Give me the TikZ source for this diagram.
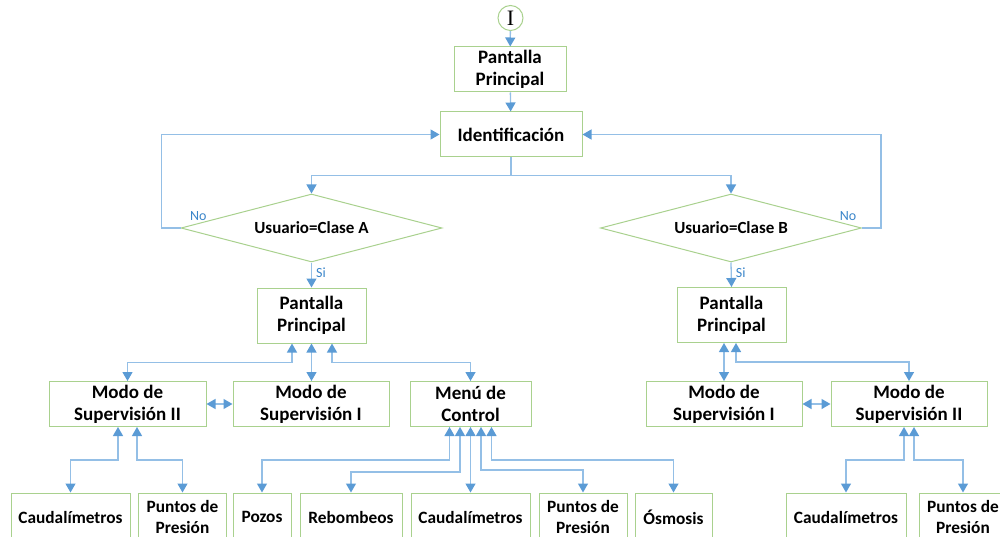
\documentclass[tikz,border=0pt]{standalone}
\usepackage{fontspec}
\setmainfont{Carlito}
\newfontfamily\letterfont{Liberation Serif}
\usetikzlibrary{arrows.meta,shapes.geometric,positioning}
\definecolor{boxgreen}{HTML}{A9D18E}
\definecolor{lineblue}{HTML}{94BFE6}
\definecolor{tipblue}{HTML}{5B9BD5}
\definecolor{lblblue}{HTML}{3A85C9}
\tikzset{
  box/.style={draw=boxgreen, line width=1pt, fill=white, inner sep=0pt, align=center,
    minimum height=45pt, font=\fontsize{19}{22}\selectfont\bfseries},
  leaf/.style={box, minimum height=48pt, font=\fontsize{17.3}{21}\selectfont\bfseries},
  decision/.style={diamond, aspect=3.84, draw=boxgreen, line width=1pt, fill=white, inner sep=0pt,
    minimum width=261pt, minimum height=68pt, font=\fontsize{17}{20}\selectfont\bfseries},
  startnode/.style={circle, draw=boxgreen, line width=1pt, minimum size=25pt, inner sep=0pt,
    font=\fontsize{22}{22}\selectfont\letterfont},
  link/.style={draw=lineblue, line width=1.3pt},
  lbl/.style={text=lblblue, inner sep=0pt, font=\fontsize{14}{14}\selectfont},
  >={Triangle[width=10pt,length=9pt,color=tipblue]}
}
\begin{document}
\begin{tikzpicture}[x=1pt,y=-1pt]
\useasboundingbox (0,0) rectangle (1000,537);
\clip (0,0) rectangle (1000,537);
% inicio y acceso
\node[startnode] (st) at (510.5,18) {I};
\node[box, minimum width=112pt] (pp0) at (510,69.5) {Pantalla\\Principal};
\node[box, minimum width=142pt] (id) at (511,134.5) {Identificaci\'on};
\node[decision] (decA) at (311.5,228) {Usuario=Clase A};
\node[decision] (decB) at (731,228) {Usuario=Clase B};
\draw[link,->] (st) -- (pp0);
\draw[link,->] (pp0) -- (id);
\draw[link,->] (id.south) -- ++(0,18) -| (decA.north);
\draw[link,->] (id.south) -- ++(0,18) -| (decB.north);
\draw[link,->] (decA.west) node[lbl, above right=7pt and 9pt] {No} -- ++(-19,0) |- (id.west);
\draw[link,->] (decB.east) node[lbl, above left=7pt and 5pt] {No} -- ++(19,0) |- (id.east);
% pantallas principales
\node[box, minimum width=109pt, minimum height=55pt] (ppA) at (311.5,315.5) {Pantalla\\Principal};
\node[box, minimum width=109pt, minimum height=55pt] (ppB) at (731.5,315) {Pantalla\\Principal};
\draw[link,->] (decA.south) -- node[lbl, right=4pt, pos=0.4] {Si} (ppA.north);
\draw[link,->] (decB.south) -- node[lbl, right=4pt, pos=0.4] {Si} (ppB.north);
% modos y menu
\node[box, minimum width=157pt] (m2A) at (127.5,404) {Modo de\\Supervisi\'on II};
\node[box, minimum width=156pt] (m1A) at (311,404) {Modo de\\Supervisi\'on I};
\node[box, minimum width=121pt] (menu) at (470.5,404) {Men\'u de\\Control};
\node[box, minimum width=156pt] (m1B) at (724,404) {Modo de\\Supervisi\'on I};
\node[box, minimum width=156pt] (m2B) at (909,404) {Modo de\\Supervisi\'on II};
\draw[link,<->] ([xshift=-19.5pt]ppA.south) -- ++(0,19) -| (m2A.north);
\draw[link,<->] (ppA.south) -- (ppA.south |- m1A.north);
\draw[link,<->] ([xshift=20.5pt]ppA.south) -- ++(0,19) -| (menu.north);
\draw[link,<->] ([xshift=-7.5pt]ppB.south) -- (m1B.north);
\draw[link,<->] ([xshift=4.5pt]ppB.south) -- ++(0,19) -| (m2B.north);
\draw[link,<->] (m2A.east) -- (m1A.west);
\draw[link,<->] (m1B.east) -- (m2B.west);
% pantallas de detalle
\node[leaf, minimum width=119pt] (caudA) at (70.5,517) {Caudal\'imetros};
\node[leaf, minimum width=88pt] (presA) at (182.5,517) {Puntos de\\Presi\'on};
\node[leaf, minimum width=58pt] (pozos) at (262,517) {Pozos};
\node[leaf, minimum width=102pt] (rebom) at (351,517) {Rebombeos};
\node[leaf, minimum width=119pt] (caudM) at (470.5,517) {Caudal\'imetros};
\node[leaf, minimum width=88pt] (presM) at (583,517) {Puntos de\\Presi\'on};
\node[leaf, minimum width=77pt] (osmo) at (673.5,517) {\'Osmosis};
\node[leaf, minimum width=120pt] (caudB) at (846,517) {Caudal\'imetros};
\node[leaf, minimum width=88pt] (presB) at (963,517) {Puntos de\\Presi\'on};
\draw[link,<->] ([xshift=-9.5pt]m2A.south) -- ++(0,33) -| (caudA.north);
\draw[link,<->] ([xshift=9.5pt]m2A.south) -- ++(0,33) -| (presA.north);
\draw[link,<->] ([xshift=-21pt]menu.south) -- ++(0,33) -| (pozos.north);
\draw[link,<->] ([xshift=-10.5pt]menu.south) -- ++(0,45) -| (rebom.north);
\draw[link,<->] (menu.south) -- (caudM.north);
\draw[link,<->] ([xshift=10.5pt]menu.south) -- ++(0,43) -| (presM.north);
\draw[link,<->] ([xshift=21pt]menu.south) -- ++(0,33) -| (osmo.north);
\draw[link,<->] ([xshift=-5pt]m2B.south) -- ++(0,33) -| (caudB.north);
\draw[link,<->] ([xshift=5pt]m2B.south) -- ++(0,33) -| (presB.north);
\end{tikzpicture}
\end{document}
